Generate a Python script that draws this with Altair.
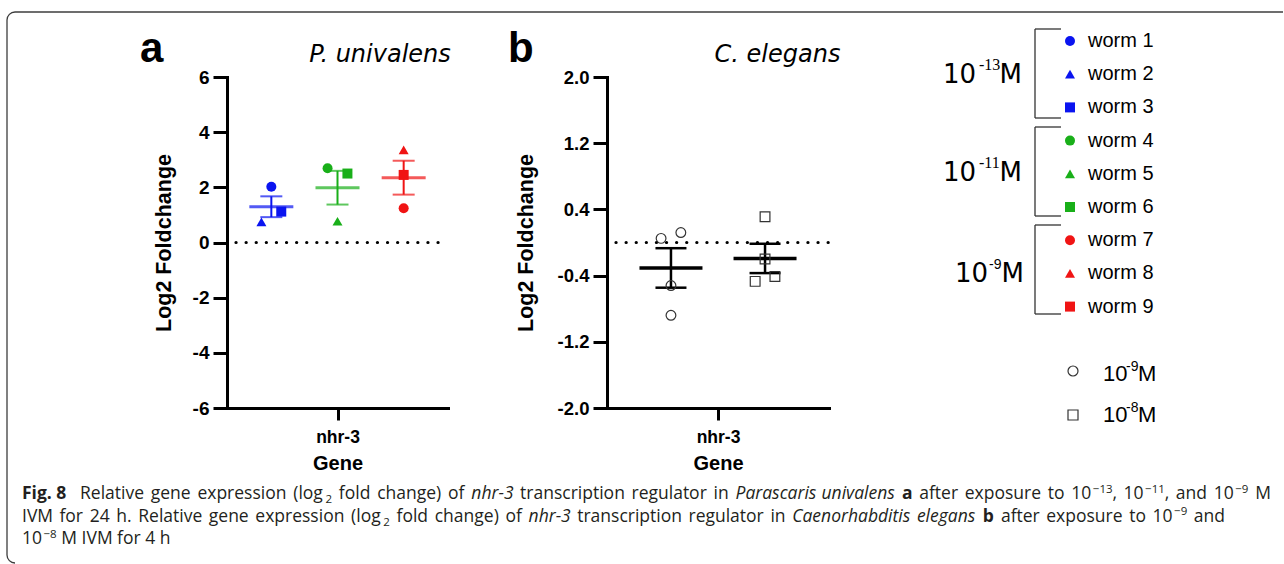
import altair as alt
import numpy as np
import pandas as pd

# ---------------- data ----------------
worms = ["worm 1", "worm 2", "worm 3", "worm 4", "worm 5", "worm 6", "worm 7", "worm 8", "worm 9"]
a_group = ["1e-13", "1e-13", "1e-13", "1e-11", "1e-11", "1e-11", "1e-9", "1e-9", "1e-9"]
a_pos = [-1, -1, -1, 0, 0, 0, 1, 1, 1]
a_jitter = [0.0, -0.15, 0.15, -0.15, 0.0, 0.15, 0.0, 0.0, 0.0]
a_values = [2.02, 0.75, 1.12, 2.69, 0.77, 2.50, 1.24, 3.36, 2.45]
group_names = ["1e-13", "1e-11", "1e-9"]
group_colors = ["#0A14F0", "#19AF19", "#F01414"]
worm_colors = ["#0A14F0"] * 3 + ["#19AF19"] * 3 + ["#F01414"] * 3
worm_shapes = ["circle", "triangle-up", "square"] * 3

b_group = ["1e-9"] * 4 + ["1e-8"] * 4
b_pos = [-1, -1, -1, -1, 1, 1, 1, 1]
b_jitter = [-0.21, 0.21, 0.0, 0.0, 0.0, 0.0, -0.21, 0.21]
b_values = [0.05, 0.12, -0.52, -0.88, 0.31, -0.20, -0.47, -0.41]
b_conc = ["1e-9", "1e-8"]
b_shapes = ["circle", "square"]

a_ticks = [-6, -4, -2, 0, 2, 4, 6]
b_ticks = [-2.0, -1.2, -0.4, 0.4, 1.2, 2.0]

# caption, word by word: each word is a list of (text, style) pieces
cap_line1 = [[("Relative", "n")], [("gene", "n")], [("expression", "n")], [("(log", "n"), ("2", "sub")],
             [("fold", "n")], [("change)", "n")], [("of", "n")], [("nhr-3", "i")],
             [("transcription", "n")], [("regulator", "n")], [("in", "n")],
             [("Parascaris", "i")], [("univalens", "i")], [("a", "b")], [("after", "n")],
             [("exposure", "n")], [("to", "n")], [("10", "n"), ("\u221213", "sup"), (",", "n")],
             [("10", "n"), ("\u221211", "sup"), (",", "n")], [("and", "n")],
             [("10", "n"), ("\u22129", "sup")], [("M", "n")]]
cap_line2 = [[("IVM", "n")], [("for", "n")], [("24", "n")], [("h.", "n")], [("Relative", "n")],
             [("gene", "n")], [("expression", "n")], [("(log", "n"), ("2", "sub")], [("fold", "n")],
             [("change)", "n")], [("of", "n")], [("nhr-3", "i")], [("transcription", "n")],
             [("regulator", "n")], [("in", "n")], [("Caenorhabditis", "i")], [("elegans", "i")],
             [("b", "b")], [("after", "n")], [("exposure", "n")], [("to", "n")],
             [("10", "n"), ("\u22129", "sup")], [("and", "n")]]
cap_line3 = [[("10", "n"), ("\u22128", "sup")], [("M", "n")], [("IVM", "n")], [("for", "n")],
             [("4", "n")], [("h", "n")]]

SANS = "Liberation Sans"
CAP = "Open Sans"

# ---------------- tables ----------------
dfa = pd.DataFrame({"worm": worms, "group": a_group, "pos": a_pos, "value": a_values})
dfa["xp"] = dfa["pos"] + np.array(a_jitter)
dfb = pd.DataFrame({"conc": b_group, "pos": b_pos, "value": b_values})
dfb["xp"] = dfb["pos"] + np.array(b_jitter)


def stats(df, key):
    g = df.groupby(key, sort=False)
    s = g["value"].agg(["mean", "std", "count"]).reset_index()
    s["sem"] = s["std"] / np.sqrt(s["count"])
    s["lo"] = s["mean"] - s["sem"]
    s["hi"] = s["mean"] + s["sem"]
    s["pos"] = g["pos"].first().values
    return s


sa = stats(dfa, "group")
sa["color"] = sa["group"].map(dict(zip(group_names, group_colors)))
sb = stats(dfb, "conc")
one = pd.DataFrame({"k": [0]})

# ---------------- axes ----------------
def y_axis(values, expr, lsize, tpad):
    return alt.Axis(values=values, labelExpr=expr, title="Log2 Foldchange", grid=False,
                    domainColor="black", domainWidth=3, domainCap="square",
                    tickColor="black", tickWidth=3, tickSize=14,
                    labelFont=SANS, labelFontSize=lsize, labelFontWeight="bold", labelColor="black",
                    labelPadding=4, titleFont=SANS, titleFontSize=21.5, titleFontWeight="bold",
                    titleColor="black", titlePadding=tpad)


def x_axis():
    return alt.Axis(values=[0], labelExpr="'nhr-3'", title="Gene", grid=False,
                    domainColor="black", domainWidth=3, domainCap="square",
                    tickColor="black", tickWidth=3, tickSize=12,
                    labelFont=SANS, labelFontSize=17.5, labelFontWeight="bold", labelColor="black",
                    labelPadding=8, titleFont=SANS, titleFontSize=20, titleFontWeight="bold",
                    titleColor="black", titlePadding=8)


a_expr = "datum.value < 0 ? '-' + format(-datum.value, 'd') : format(datum.value, 'd')"
b_expr = "datum.value < 0 ? '-' + format(-datum.value, '.1f') : format(datum.value, '.1f')"


def xa(f):
    return alt.X(f, type="quantitative", scale=alt.Scale(domain=[-1.67, 1.67]), axis=x_axis())


def ya(f):
    return alt.Y(f, type="quantitative", scale=alt.Scale(domain=[-6, 6]), axis=y_axis(a_ticks, a_expr, 19, 17))


def xb(f):
    return alt.X(f, type="quantitative", scale=alt.Scale(domain=[-2.36, 2.36]), axis=x_axis())


def yb(f):
    return alt.Y(f, type="quantitative", scale=alt.Scale(domain=[-2, 2]), axis=y_axis(b_ticks, b_expr, 18.5, 20))


def txt(text, x, y, size, font=SANS, weight="normal", style="normal", align="left", color="black"):
    return alt.Chart(one).mark_text(text=text, font=font, fontSize=size, fontWeight=weight,
                                    fontStyle=style, align=align, baseline="alphabetic",
                                    color=color).encode(x=alt.value(x), y=alt.value(y))


# ---------------- panel a ----------------
AX, AY = 227, 77  # panel a plot origin in the figure
zero_a = alt.Chart(one).mark_rule(strokeDash=[0.1, 10], strokeCap="round", strokeWidth=3.2,
                                  color="black").encode(y=ya("k"), x=alt.value(9), x2=alt.value(221))
err_a = alt.Chart(sa).mark_rule(strokeWidth=2).encode(
    x=xa("pos"), y=ya("lo"), y2="hi", color=alt.Color("color:N", scale=None))
caphi_a = alt.Chart(sa).mark_tick(orient="horizontal", size=22, thickness=2).encode(
    x=xa("pos"), y=ya("hi"), color=alt.Color("color:N", scale=None))
caplo_a = alt.Chart(sa).mark_tick(orient="horizontal", size=22, thickness=2).encode(
    x=xa("pos"), y=ya("lo"), color=alt.Color("color:N", scale=None))
mean_a = alt.Chart(sa).mark_tick(orient="horizontal", size=44, thickness=3).encode(
    x=xa("pos"), y=ya("mean"), color=alt.Color("color:N", scale=None))

worm_legend = alt.Legend(orient="none", legendX=833, legendY=-46, title=None,
                         labelFont=SANS, labelFontSize=20, labelColor="black",
                         symbolSize=100, symbolStrokeWidth=0, symbolOpacity=1,
                         rowPadding=13.2, labelOffset=8, padding=0)
pts_a = alt.Chart(dfa).mark_point(filled=True, size=100, opacity=1, fillOpacity=1).encode(
    x=xa("xp"), y=ya("value"),
    color=alt.Color("worm:N", scale=alt.Scale(domain=worms, range=worm_colors), legend=worm_legend),
    shape=alt.Shape("worm:N", scale=alt.Scale(domain=worms, range=worm_shapes), legend=worm_legend))

deco_a = [
    txt("a", 140 - AX, 61.5 - AY, 42, weight="bold"),
    txt("P. univalens", 380 - AX, 61.5 - AY, 24, font="DejaVu Sans", style="italic", align="center"),
]

# frame
FR = "#3c3c3c"
frame = [
    alt.Chart(one).mark_rule(color=FR, strokeWidth=1.3).encode(
        x=alt.value(7 - AX), y=alt.value(20 - AY), y2=alt.value(555 - AY)),
    alt.Chart(one).mark_rule(color=FR, strokeWidth=1.3).encode(
        x=alt.value(15 - AX), x2=alt.value(1283 - AX), y=alt.value(12 - AY)),
    alt.Chart(one).mark_arc(color=FR, innerRadius=7.35, outerRadius=8.65, theta=4.7124, theta2=6.2832).encode(
        x=alt.value(15 - AX), y=alt.value(20 - AY)),
    alt.Chart(one).mark_arc(color=FR, innerRadius=7.35, outerRadius=8.65, theta=3.1416, theta2=4.7124).encode(
        x=alt.value(15 - AX), y=alt.value(555 - AY)),
]

# ---------------- caption layout (approximate Open Sans advance widths, em) ----------------
FS, FS_SMALL = 17.5, 11.5
CC = "#231f20"
EM = {" ": 0.26, "a": 0.556, "b": 0.613, "c": 0.476, "d": 0.613, "e": 0.561, "f": 0.339, "g": 0.548,
      "h": 0.614, "i": 0.253, "k": 0.525, "l": 0.253, "m": 0.930, "n": 0.614, "o": 0.604, "p": 0.613,
      "r": 0.408, "s": 0.477, "t": 0.353, "u": 0.614, "v": 0.501, "w": 0.778, "x": 0.524, "y": 0.502,
      "C": 0.632, "F": 0.539, "I": 0.279, "M": 0.905, "P": 0.603, "R": 0.617, "V": 0.579,
      "(": 0.297, ")": 0.297, ".": 0.266, ",": 0.244, "-": 0.322, "\u2212": 0.572}
STYLE_F = {"n": 1.0, "b": 1.07, "i": 0.95, "sub": 1.0, "sup": 1.0}
GAP = {"sub": 2.5, "sup": 1.5}


def wid(text, style):
    size = FS_SMALL if style in ("sub", "sup") else FS
    return sum(EM.get(ch, 0.572) for ch in text) * size * STYLE_F[style]


def piece(text, style, x, base):
    if style == "b":
        return txt(text, x - AX, base - AY, FS, font=CAP, weight="bold", color=CC)
    if style == "i":
        return txt(text, x - AX, base - AY, FS, font=CAP, style="italic", color=CC)
    if style == "sub":
        return txt(text, x - AX, base - AY + 4, FS_SMALL, font=CAP, color=CC)
    if style == "sup":
        return txt(text, x - AX, base - AY - 6.5, FS_SMALL, font=CAP, color=CC)
    return txt(text, x - AX, base - AY, FS, font=CAP, color=CC)


def line_layers(words, x0, x_end, base):
    widths = [sum(wid(t, s) + GAP.get(s, 0) for t, s in w) for w in words]
    nsp = max(1, len(words) - 1)
    if x_end is None:
        sp = EM[" "] * FS
    else:
        sp = (x_end - x0 - sum(widths)) / nsp
        sp = min(max(sp, 0.18 * FS), 0.8 * FS)
    out, x = [], x0
    for w in words:
        for t, s in w:
            x += GAP.get(s, 0)
            out.append(piece(t, s, x, base))
            x += wid(t, s)
        x += sp
    return out


cap_layers = [piece("Fig. 8", "b", 22, 499)]
cap_layers += line_layers(cap_line1, 80, 1271, 499)
cap_layers += line_layers(cap_line2, 22, 1225, 521.5)
cap_layers += line_layers(cap_line3, 22, None, 544)

panel_a = alt.layer(zero_a, err_a, caphi_a, caplo_a, mean_a, pts_a, *deco_a, *frame, *cap_layers).properties(
    width=221, height=331)

# ---------------- panel b ----------------
BX, BY = 607, 77
zero_b = alt.Chart(one).mark_rule(strokeDash=[0.1, 10], strokeCap="round", strokeWidth=3.2,
                                  color="black").encode(y=yb("k"), x=alt.value(9), x2=alt.value(222))
err_b = alt.Chart(sb).mark_rule(strokeWidth=2.5, color="black").encode(x=xb("pos"), y=yb("lo"), y2="hi")
caphi_b = alt.Chart(sb).mark_tick(orient="horizontal", size=31, thickness=2.5, color="black", opacity=1).encode(
    x=xb("pos"), y=yb("hi"))
caplo_b = alt.Chart(sb).mark_tick(orient="horizontal", size=31, thickness=2.5, color="black", opacity=1).encode(
    x=xb("pos"), y=yb("lo"))
mean_b = alt.Chart(sb).mark_tick(orient="horizontal", size=63, thickness=3.5, color="black", opacity=1).encode(
    x=xb("pos"), y=yb("mean"))
conc_legend = alt.Legend(orient="none", legendX=460, legendY=288, title=None, labelExpr="''",
                         symbolSize=100, symbolStrokeColor="#333333", symbolStrokeWidth=1.2,
                         symbolFillColor="transparent", rowPadding=28, padding=0)
pts_b = alt.Chart(dfb).mark_point(filled=False, size=95, strokeWidth=1.2, color="#333333", opacity=1).encode(
    x=xb("xp"), y=yb("value"),
    shape=alt.Shape("conc:N", scale=alt.Scale(domain=b_conc, range=b_shapes), legend=conc_legend))

deco_b = [
    txt("b", 508 - BX, 61.5 - BY, 42, weight="bold"),
    txt("C. elegans", 777.5 - BX, 61.5 - BY, 24, font="DejaVu Sans", style="italic", align="center"),
]
# legend brackets
for top, bot in [(29, 118), (127, 216), (225, 314)]:
    deco_b.append(alt.Chart(one).mark_rule(color="#333333", strokeWidth=1.3).encode(
        x=alt.value(1035 - BX), y=alt.value(top - BY), y2=alt.value(bot - BY)))
    for yy in (top, bot):
        deco_b.append(alt.Chart(one).mark_rule(color="#333333", strokeWidth=1.3).encode(
            x=alt.value(1035 - BX), x2=alt.value(1061 - BX), y=alt.value(yy - BY)))
# bracket labels: "10", superscript, "M"
for x10, xs, xm, base, sup, sfont, ssize in [(943, 979, 1022, 83, "-13", "Liberation Serif", 16),
                                             (943, 979, 1022, 181, "-11", "Liberation Serif", 16),
                                             (955, 989, 1024, 282, "-9", SANS, 14)]:
    deco_b.append(txt("10", x10 - BX, base - BY, 26, font="DejaVu Sans"))
    deco_b.append(txt(sup, xs - BX, base - 13 - BY, ssize, font=sfont))
    deco_b.append(txt("M", xm - BX, base - BY, 26, font="DejaVu Sans", align="right"))
# lower legend labels
for base, sup in [(381, "-9"), (422, "-8")]:
    deco_b.append(txt("10", 1103 - BX, base - BY, 22))
    deco_b.append(txt(sup, 1126 - BX, base - 10 - BY, 14))
    deco_b.append(txt("M", 1138 - BX, base - BY, 22))

panel_b = alt.layer(zero_b, err_b, caphi_b, caplo_b, mean_b, pts_b, *deco_b).properties(
    width=222, height=331)

chart = alt.hconcat(panel_a, panel_b, spacing=159, bounds="flush").resolve_scale(
    color="independent", shape="independent").properties(
    padding={"left": 6, "top": 11, "right": 0, "bottom": 0},
    background="white").configure_view(stroke=None).configure_legend(symbolOpacity=1)

chart.save("out.html", embed_options={"renderer": "svg", "actions": False})
